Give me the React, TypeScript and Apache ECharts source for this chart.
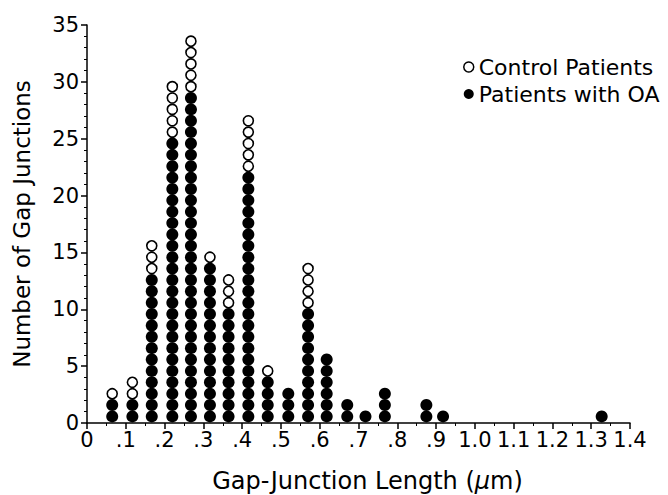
import React, { useEffect, useRef } from "react";
import * as echarts from "echarts";

const columnX = [0.065, 0.117, 0.167, 0.22, 0.268, 0.317, 0.365, 0.416, 0.466, 0.519, 0.57, 0.618, 0.671, 0.718, 0.768, 0.875, 0.918, 1.327];
const oaCounts = [2, 2, 13, 25, 29, 14, 10, 22, 4, 3, 10, 6, 2, 1, 3, 2, 1, 1];
const controlCounts = [1, 2, 3, 5, 5, 1, 3, 5, 1, 0, 4, 0, 0, 0, 0, 0, 0, 0];
const yTicks = [0, 5, 10, 15, 20, 25, 30, 35];
const seriesNames = ["Control Patients", "Patients with OA"];

const FONT = "'DejaVu Sans', 'Liberation Sans', Arial, sans-serif";

function buildPoints() {
  const oa: number[][] = [];
  const ctrl: number[][] = [];
  columnX.forEach((x, i) => {
    for (let k = 1; k <= oaCounts[i]; k++) oa.push([x, k - 0.42]);
    for (let k = oaCounts[i] + 1; k <= oaCounts[i] + controlCounts[i]; k++) ctrl.push([x, k - 0.42]);
  });
  return { oa, ctrl };
}

export default function App() {
  const ref = useRef<HTMLDivElement>(null);
  useEffect(() => {
    if (!ref.current) return;
    const chart = echarts.init(ref.current, undefined, { renderer: "svg" });
    const { oa, ctrl } = buildPoints();
    chart.setOption({
      animation: false,
      backgroundColor: "#ffffff",
      textStyle: { fontFamily: FONT, color: "#000" },
      grid: { left: 87, right: 38, top: 25, bottom: 72, containLabel: false, outerBoundsMode: "none" },
      legend: {
        data: [
          { name: seriesNames[0], icon: "circle", itemStyle: { color: "#fff", borderColor: "#000", borderWidth: 1.5 } },
          { name: seriesNames[1], icon: "circle", itemStyle: { color: "#000" } },
        ],
        orient: "vertical",
        left: 458,
        top: 51,
        itemWidth: 10,
        itemHeight: 10,
        itemGap: 5,
        textStyle: { fontFamily: FONT, fontSize: 22, color: "#000" },
      },
      xAxis: {
        type: "value",
        min: 0,
        max: 1.4,
        interval: 0.1,
        name: "Gap-Junction Length ({i|μ}m)",
        nameLocation: "middle",
        nameGap: 46,
        nameTextStyle: {
          fontFamily: FONT,
          fontSize: 24,
          color: "#000",
          padding: [0, 0, 0, 18],
          rich: { i: { fontFamily: FONT, fontSize: 24, fontStyle: "italic", color: "#000" } },
        },
        axisLine: { show: true, lineStyle: { color: "#000", width: 1.5 } },
        axisTick: { show: true, inside: false, length: 6, lineStyle: { color: "#000", width: 1.5 } },
        minorTick: { show: true, splitNumber: 2, length: 3, lineStyle: { color: "#000", width: 1 } },
        splitLine: { show: false },
        axisLabel: {
          fontFamily: FONT,
          fontSize: 21,
          color: "#000",
          margin: 6,
          formatter: (v: number) => {
            const r = Math.round(v * 10) / 10;
            if (r === 0) return "0";
            if (r < 1) return "." + Math.round(r * 10);
            return r.toFixed(1);
          },
        },
      },
      yAxis: {
        type: "value",
        min: yTicks[0],
        max: yTicks[yTicks.length - 1],
        interval: 5,
        name: "Number of Gap Junctions",
        nameLocation: "middle",
        nameGap: 54,
        nameTextStyle: { fontFamily: FONT, fontSize: 23, color: "#000" },
        axisLine: { show: true, lineStyle: { color: "#000", width: 1.5 } },
        axisTick: { show: true, inside: false, length: 6, lineStyle: { color: "#000", width: 1.5 } },
        minorTick: { show: true, splitNumber: 5, length: 3, lineStyle: { color: "#000", width: 1 } },
        splitLine: { show: false },
        axisLabel: { fontFamily: FONT, fontSize: 21, color: "#000", margin: 8 },
      },
      series: [
        {
          name: seriesNames[1],
          type: "scatter",
          data: oa,
          symbol: "circle",
          symbolSize: 12,
          itemStyle: { color: "#000", borderColor: "#000", borderWidth: 0, opacity: 1 },
          z: 3,
        },
        {
          name: seriesNames[0],
          type: "scatter",
          data: ctrl,
          symbol: "circle",
          symbolSize: 10,
          itemStyle: { color: "#fff", borderColor: "#000", borderWidth: 1.6, opacity: 1 },
          z: 4,
        },
      ],
    });
    return () => chart.dispose();
  }, []);
  return <div ref={ref} style={{ width: 668, height: 495, position: "absolute", left: 0, top: 0 }} />;
}
